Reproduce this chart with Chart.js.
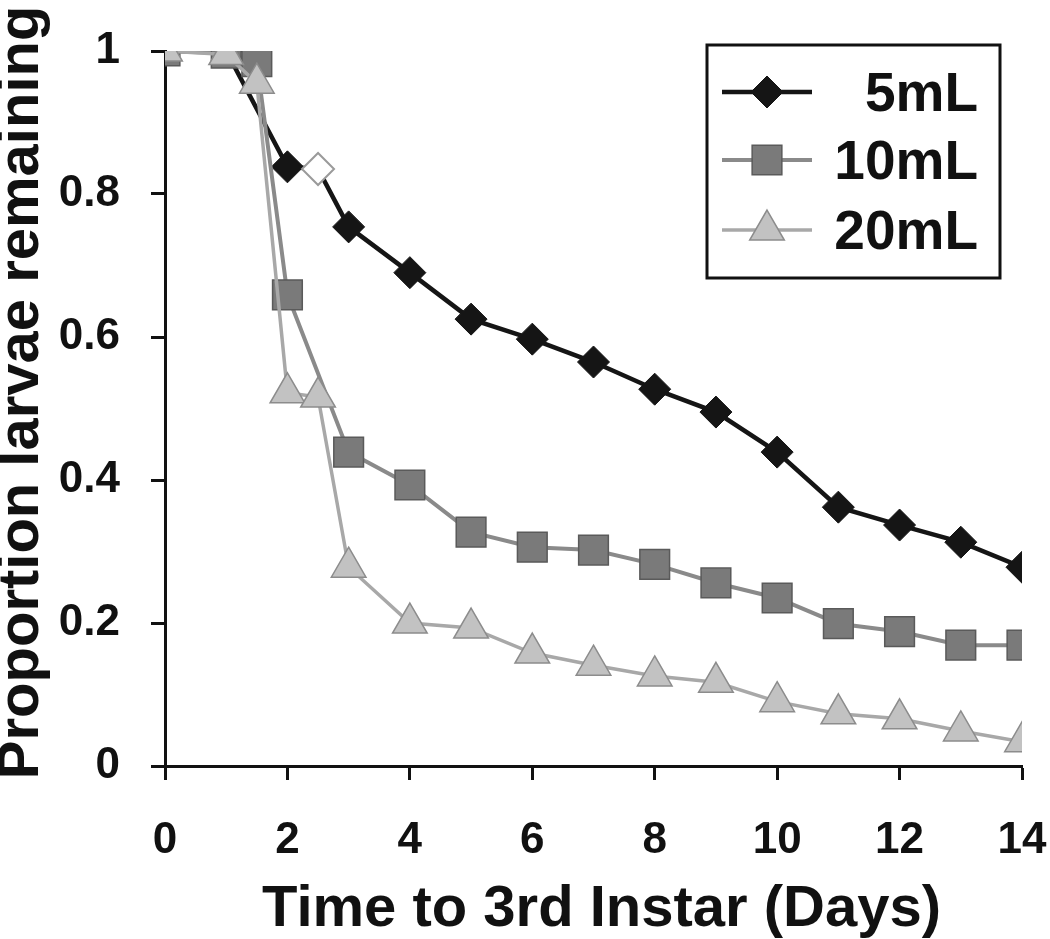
<!DOCTYPE html>
<html><head><meta charset="utf-8">
<script src="https://cdn.jsdelivr.net/npm/chart.js@4.4.1/dist/chart.umd.min.js"></script>
<style>html,body{margin:0;padding:0;background:#fff;} #wrap{width:1050px;height:939px;}</style>
</head><body><div id="wrap"><canvas id="c" width="1050" height="939"></canvas></div>
<script>
// ---- data ----
const seriesLabels = ['5mL', '10mL', '20mL'];
const days5  = [0, 1, 2, 2.5, 3, 4, 5, 6, 7, 8, 9, 10, 11, 12, 13, 14];
const prop5  = [1, 1, 0.838, 0.835, 0.754, 0.690, 0.625, 0.597, 0.565, 0.527, 0.495, 0.439, 0.362, 0.337, 0.313, 0.278];
const days10 = [0, 1, 1.5, 2, 3, 4, 5, 6, 7, 8, 9, 10, 11, 12, 13, 14];
const prop10 = [1, 0.997, 0.985, 0.659, 0.439, 0.393, 0.327, 0.306, 0.302, 0.282, 0.256, 0.235, 0.199, 0.188, 0.169, 0.169];
const days20 = [0, 1, 1.5, 2, 2.5, 3, 4, 5, 6, 7, 8, 9, 10, 11, 12, 13, 14];
const prop20 = [1, 0.995, 0.955, 0.522, 0.516, 0.278, 0.200, 0.193, 0.158, 0.141, 0.126, 0.117, 0.090, 0.073, 0.066, 0.049, 0.034];
const hollowDay5 = 2.5;   // the open (white) diamond in the 5mL series
const xTickValues = [0, 2, 4, 6, 8, 10, 12, 14];
const yTickValues = [0, 0.2, 0.4, 0.6, 0.8, 1];
const yTickLabels = ['0', '0.2', '0.4', '0.6', '0.8', '1'];
const xTitle = 'Time to 3rd Instar (Days)';
const yTitle = 'Proportion larvae remaining';

const FONT = "'Liberation Sans', Arial, Helvetica, sans-serif";
const pts = (xs, ys) => xs.map((x, i) => ({x: x, y: ys[i]}));

const seriesStyles = [
  {line: '#151515', lw: 4.5, style: 'rectRot', r: 16, fill: '#151515', border: '#151515', bw: 1},
  {line: '#8a8a8a', lw: 4,   style: 'rect',    r: 21, fill: '#7a7a7a', border: '#5a5a5a', bw: 1.5},
  {line: '#a8a8a8', lw: 3.5, style: 'triangle',r: 20, fill: '#c2c2c2', border: '#8c8c8c', bw: 1.5}
];

function makeDataset(i, data, order) {
  const s = seriesStyles[i];
  return {
    label: seriesLabels[i], data: data, order: order,
    borderColor: s.line, borderWidth: s.lw, tension: 0,
    pointStyle: s.style, pointRadius: s.r, pointHoverRadius: s.r,
    pointBackgroundColor: s.fill, pointBorderColor: s.border, pointBorderWidth: s.bw
  };
}
const ds5 = makeDataset(0, pts(days5, prop5), 3);
ds5.pointBackgroundColor = (c) => (c.raw && c.raw.x === hollowDay5) ? '#ffffff' : seriesStyles[0].fill;
ds5.pointBorderColor = (c) => (c.raw && c.raw.x === hollowDay5) ? '#9a9a9a' : seriesStyles[0].border;
ds5.pointBorderWidth = (c) => (c.raw && c.raw.x === hollowDay5) ? 2 : seriesStyles[0].bw;
const ds10 = makeDataset(1, pts(days10, prop10), 2);
const ds20 = makeDataset(2, pts(days20, prop20), 1);

const boxLegend = {
  id: 'boxLegend',
  afterDraw(chart) {
    const ctx = chart.ctx;
    ctx.save();
    const bx = 707, by = 45, bw = 293, bh = 233;
    ctx.fillStyle = '#fff'; ctx.fillRect(bx, by, bw, bh);
    ctx.lineWidth = 3; ctx.strokeStyle = '#111'; ctx.strokeRect(bx, by, bw, bh);
    const rows = [92, 160, 230];
    seriesLabels.forEach((lab, i) => {
      const s = seriesStyles[i], y = rows[i];
      ctx.strokeStyle = s.line; ctx.lineWidth = s.lw;
      ctx.beginPath(); ctx.moveTo(722, y); ctx.lineTo(812, y); ctx.stroke();
      ctx.fillStyle = s.fill; ctx.strokeStyle = s.border; ctx.lineWidth = s.bw;
      Chart.helpers.drawPoint(ctx, {pointStyle: s.style, radius: s.r, borderWidth: s.bw, rotation: 0}, 767, y);
      ctx.fillStyle = '#111';
      ctx.font = 'bold 55px ' + FONT;
      ctx.textAlign = 'right'; ctx.textBaseline = 'alphabetic';
      ctx.fillText(lab, 978, y + 19);
    });
    ctx.restore();
  }
};

new Chart(document.getElementById('c'), {
  type: 'line',
  data: {datasets: [ds5, ds10, ds20]},
  plugins: [boxLegend],
  options: {
    responsive: false, animation: false,
    layout: {padding: {top: 51, right: 28, left: 0, bottom: 0}},
    plugins: {legend: {display: false}, tooltip: {enabled: false}},
    scales: {
      x: {
        type: 'linear', min: 0, max: 14,
        afterBuildTicks: (sc) => { sc.ticks = xTickValues.map(v => ({value: v})); },
        afterFit: (sc) => { sc.height = 173; sc.paddingLeft = 0; sc.paddingRight = 0; },
        grid: {display: true, drawOnChartArea: false, drawTicks: true, tickLength: 14, tickWidth: 3, tickColor: '#111'},
        border: {display: true, color: '#111', width: 3},
        ticks: {color: '#111', padding: 34, maxRotation: 0, font: {family: FONT, size: 44, weight: 'bold'}},
        title: {display: true, text: ' ' + xTitle, color: '#111', padding: {top: 0, bottom: 0},
                font: {family: FONT, size: 58, weight: 'bold', lineHeight: 1}}
      },
      y: {
        type: 'linear', min: 0, max: 1,
        afterBuildTicks: (sc) => { sc.ticks = yTickValues.map(v => ({value: v})); },
        afterFit: (sc) => { sc.width = 165; sc.paddingTop = 0; sc.paddingBottom = 0; },
        grid: {display: true, drawOnChartArea: false, drawTicks: true, tickLength: 14, tickWidth: 3, tickColor: '#111'},
        border: {display: true, color: '#111', width: 3},
        ticks: {color: '#111', padding: 31, font: {family: FONT, size: 44, weight: 'bold'},
                callback: (v) => { const k = yTickValues.indexOf(v); return k >= 0 ? yTickLabels[k] : String(v); }},
        title: {display: true, text: '  ' + yTitle, color: '#111', padding: {top: 0, bottom: 0},
                font: {family: FONT, size: 58, weight: 'bold', lineHeight: 0.76}}
      }
    }
  }
});
</script>
</body></html>
